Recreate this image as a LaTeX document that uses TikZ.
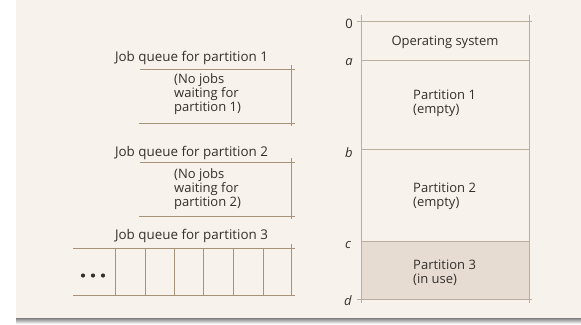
\documentclass[tikz,border=0pt]{standalone}
\usepackage{fontspec}
\setmainfont{Open Sans}
\begin{document}
\begin{tikzpicture}[x=1pt,y=-1pt,
  txt/.style={text=ink,font=\fontsize{13}{14}\selectfont,inner sep=0pt},
  title/.style={text=ink,font=\fontsize{13.4}{14}\selectfont,inner sep=0pt},
  lbl/.style={text=ink,font=\fontsize{13}{14}\selectfont\itshape,inner sep=0pt},
  qline/.style={draw=qcol,line width=0.8pt},
  mline/.style={draw=mcol,line width=0.7pt}]
\definecolor{ink}{HTML}{34302C}
\definecolor{panel}{HTML}{F7F2EC}
\definecolor{shade}{HTML}{D3CFCB}
\definecolor{qcol}{HTML}{A6937A}
\definecolor{mcol}{HTML}{BBAE9E}
\definecolor{used}{HTML}{E6DCD2}
\useasboundingbox (0,0) rectangle (581,324);
% page and panel
\fill[white] (0,0) rectangle (581,324);
\fill[shade] (16,318) rectangle (581,324);
\fill[panel] (16,0) rectangle (581,318);

% memory layout
\fill[used] (361,241.7) rectangle (529,299);
\coordinate (m0l) at (357,21.7);  \coordinate (m0r) at (532,21.7);
\coordinate (mal) at (361,60);    \coordinate (mar) at (529,60);
\coordinate (mbl) at (361,149);   \coordinate (mbr) at (529,149);
\coordinate (mcl) at (361,241.7); \coordinate (mcr) at (529,241.7);
\coordinate (mdl) at (357,299);   \coordinate (mdr) at (532,299);
\coordinate (vlt) at (361,15);    \coordinate (vlb) at (361,303);
\coordinate (vrt) at (529,15);    \coordinate (vrb) at (529,303);
\draw[mline] (m0l) -- (m0r);
\draw[mline] (mal) -- (mar);
\draw[mline] (mbl) -- (mbr);
\draw[mline] (mcl) -- (mcr);
\draw[mline] (mdl) -- (mdr);
\draw[mline] (vlt) -- (vlb);
\draw[mline] (vrt) -- (vrb);

\node[txt] (l0) at (349,24) {0};
\node[lbl] (la) at (349,62) {a};
\node[lbl] (lb) at (349,153) {b};
\node[lbl] (lc) at (348,245) {c};
\node[lbl] (ld) at (348,301) {d};

\node[txt] (os) at (445,42) {Operating system};
\node[txt,align=left,anchor=west] (p1) at (413,103.5) {Partition 1\\(empty)};
\node[txt,align=left,anchor=west] (p2) at (413,196) {Partition 2\\(empty)};
\node[txt,align=left,anchor=west] (p3) at (413,273) {Partition 3\\(in use)};

% job queue 1
\node[title] (q1) at (191.5,58) {Job queue for partition 1};
\coordinate (q1tl) at (140,69);  \coordinate (q1tr) at (295,69);
\coordinate (q1bl) at (139,123); \coordinate (q1br) at (295,123);
\coordinate (q1vt) at (291.5,65); \coordinate (q1vb) at (291.5,126);
\draw[qline] (q1tl) -- (q1tr);
\draw[qline] (q1bl) -- (q1br);
\draw[qline] (q1vt) -- (q1vb);
\node[txt,align=left,anchor=west] (w1) at (174,94.5) {(No jobs\\waiting for\\partition 1)};

% job queue 2
\node[title] (q2) at (191.5,153) {Job queue for partition 2};
\coordinate (q2tl) at (140,162);  \coordinate (q2tr) at (295,162);
\coordinate (q2bl) at (139,216); \coordinate (q2br) at (295,216);
\coordinate (q2vt) at (291.5,158); \coordinate (q2vb) at (291.5,219);
\draw[qline] (q2tl) -- (q2tr);
\draw[qline] (q2bl) -- (q2br);
\draw[qline] (q2vt) -- (q2vb);
\node[txt,align=left,anchor=west] (w2) at (174,189.5) {(No jobs\\waiting for\\partition 2)};

% job queue 3
\node[title] (q3) at (191.5,236) {Job queue for partition 3};
\coordinate (q3tl) at (73,248);  \coordinate (q3tr) at (295,248);
\coordinate (q3bl) at (73,295);  \coordinate (q3br) at (295,295);
\draw[qline] (q3tl) -- (q3tr);
\draw[qline] (q3bl) -- (q3br);
\foreach \x in {115,145,174,203,233,263} {
  \draw[qline] (\x,248) -- (\x,295);
}
\draw[qline] (291.5,244) -- (291.5,296);
\foreach \x in {83,93,103} {
  \fill[ink] (\x,275.5) circle (2.1pt);
}
\end{tikzpicture}
\end{document}
